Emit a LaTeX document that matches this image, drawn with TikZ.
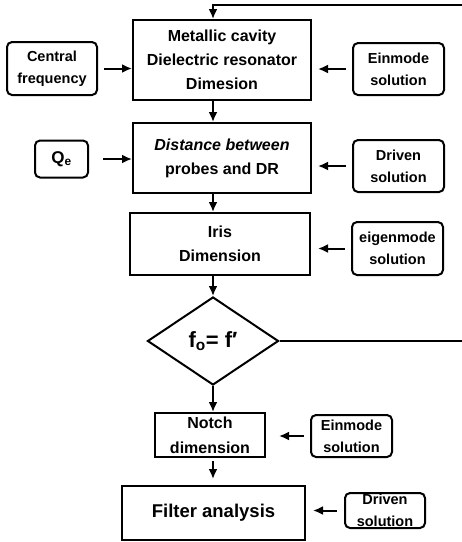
\documentclass[tikz,border=0pt]{standalone}
\usepackage{fontspec}
\setmainfont{Liberation Sans}
\usetikzlibrary{arrows.meta,shapes.geometric}

\begin{document}
\begin{tikzpicture}[x=1pt,y=-1pt,
  box/.style={draw,line width=2pt,align=center,inner sep=0pt,font=\bfseries\fontsize{16}{24}\selectfont},
  side/.style={box,rounded corners=5pt,font=\bfseries\fontsize{14.5}{22}\selectfont},
  arr/.style={line width=2pt,-{Latex[length=10pt,width=9pt]}}]
\useasboundingbox (0,0) rectangle (462,542);

% main flow
\node[box,minimum width=178,minimum height=80] (dim) at (222,60) {Metallic cavity\\Dielectric resonator\\Dimesion};
\node[box,minimum width=178,minimum height=70] (dist) at (222,158) {\itshape Distance between\\probes and DR};
\node[box,minimum width=180,minimum height=62] (iris) at (220,244) {Iris\\Dimension};
\node[draw,diamond,line width=2pt,inner sep=0pt,minimum width=131,minimum height=88,font=\bfseries\fontsize{22}{24}\selectfont] (cmp) at (213,341) {f\textsubscript{o}= f′};
\node[box,minimum width=110,minimum height=44] (notch) at (210,435) {Notch\\[1pt]dimension};
\node[box,minimum width=183,minimum height=54,font=\bfseries\fontsize{18.5}{24}\selectfont] (filt) at (213.5,513) {Filter analysis};

% side inputs
\node[side,minimum width=90,minimum height=53] (freq) at (52,68.5) {Central\\frequency};
\node[side,minimum width=91,minimum height=52] (eig1) at (398.5,69) {Einmode\\solution};
\node[side,minimum width=53,minimum height=37,font=\bfseries\fontsize{17}{22}\selectfont] (qe) at (61.5,159) {Q\textsubscript{e}};
\node[side,minimum width=91,minimum height=52] (drv1) at (398.5,166) {Driven\\solution};
\node[side,minimum width=91,minimum height=53] (eig2) at (397.5,248.5) {eigenmode\\solution};
\node[side,minimum width=81,minimum height=42] (eig3) at (351.5,436) {Einmode\\solution};
\node[side,minimum width=80,minimum height=35] (drv2) at (385,510.5) {Driven\\solution};

\coordinate (back) at (462,5);
\coordinate (out) at (462,341);

% connectors
\draw[arr] (back) -| (cmp.north |- dim.north);
\draw[arr] (cmp.north |- dim.south) -- (cmp.north |- dist.north);
\draw[arr] (cmp.north |- dist.south) -- (cmp.north |- iris.north);
\draw[arr] (cmp.north |- iris.south) -- (cmp.north);
\draw[arr] (cmp.south) -- (cmp.south |- notch.north);
\draw[arr,shorten <=3pt,shorten >=6pt] (cmp.south |- notch.south) -- (cmp.south |- filt.north);
\draw[line width=2pt] (cmp.east) -- (out);

\draw[arr,shorten <=6pt] (freq.east) -- (freq.east -| dim.west);
\draw[arr,shorten <=6pt,shorten >=6pt] (eig1.west) -- (eig1.west -| dim.east);
\draw[arr,shorten <=14pt] (qe.east) -- (qe.east -| dist.west);
\draw[arr,shorten <=6pt,shorten >=6pt] (drv1.west) -- (drv1.west -| dist.east);
\draw[arr,shorten <=6pt,shorten >=7pt] (eig2.west) -- (eig2.west -| iris.east);
\draw[arr,shorten <=6pt,shorten >=13pt] (eig3.west) -- (eig3.west -| notch.east);
\draw[arr,shorten <=7pt,shorten >=7pt] (drv2.west) -- (drv2.west -| filt.east);
\end{tikzpicture}
\end{document}
